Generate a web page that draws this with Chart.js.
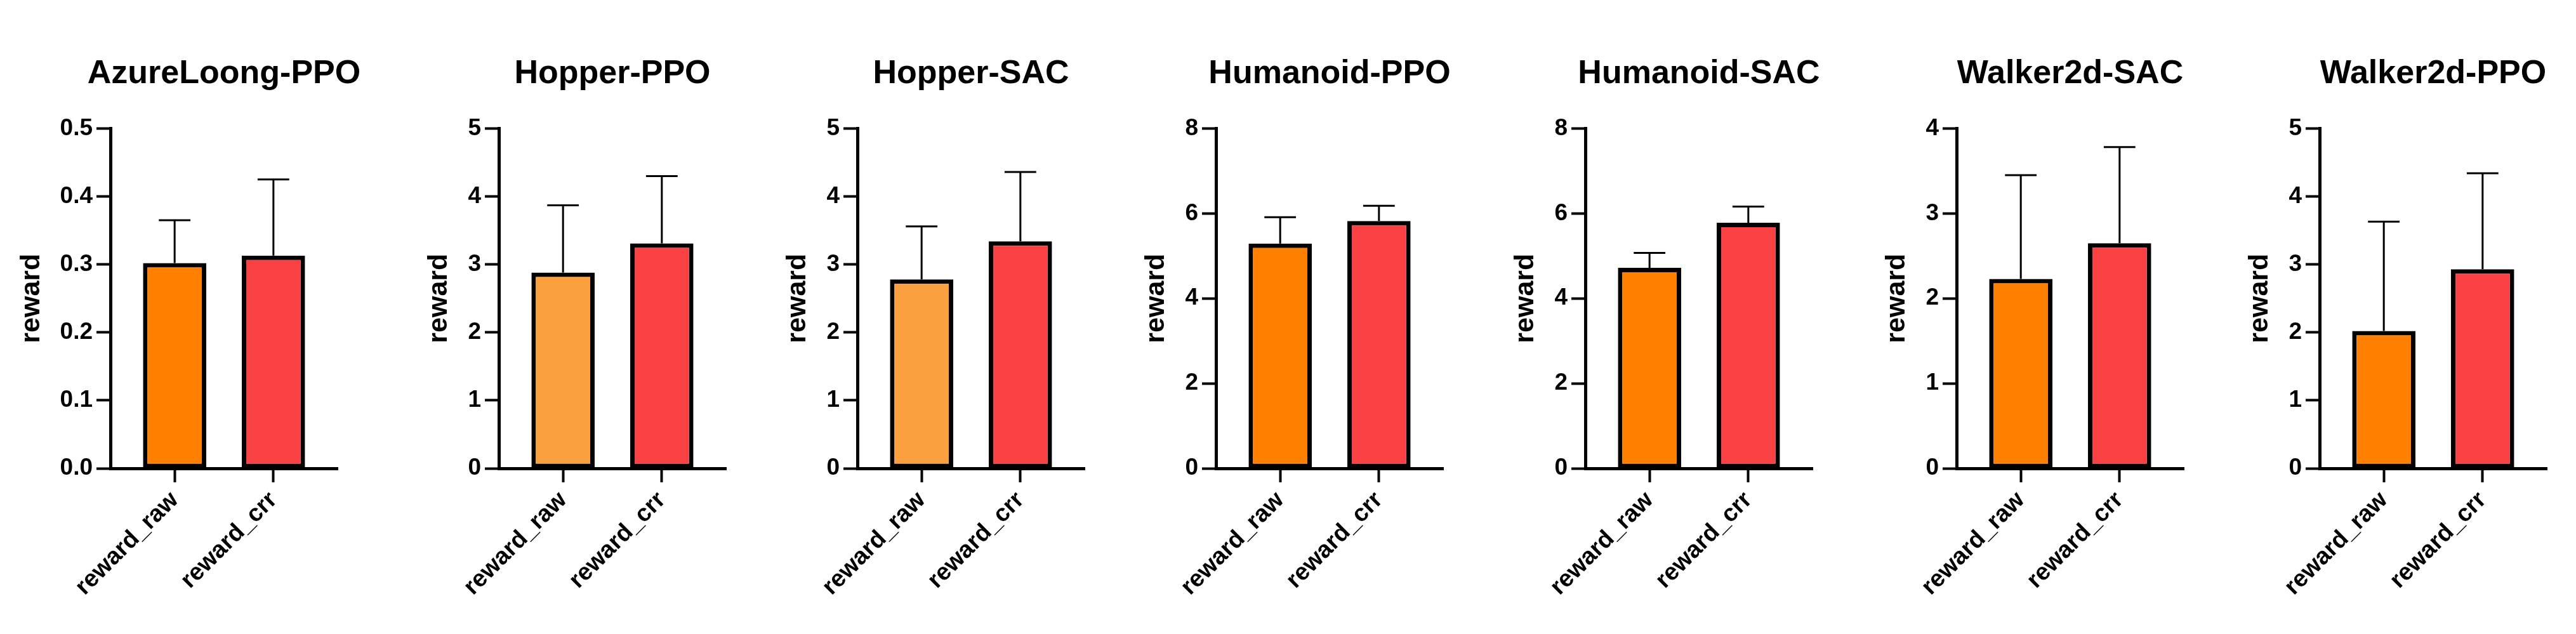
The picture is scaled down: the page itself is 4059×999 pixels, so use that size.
<!DOCTYPE html>
<html>
<head>
<meta charset="utf-8">
<script src="https://cdn.jsdelivr.net/npm/chart.js@4.4.1/dist/chart.umd.min.js"></script>
<style>
  body { margin: 0; background: #fff; }
  #wrap { position: relative; width: 4059px; height: 999px; background: #fff; }
  #wrap canvas { position: absolute; top: 0; }
</style>
</head>
<body>
<div id="wrap"></div>
<script>
// panels, left to right
const titles = ['AzureLoong-PPO', 'Hopper-PPO', 'Hopper-SAC', 'Humanoid-PPO', 'Humanoid-SAC', 'Walker2d-SAC', 'Walker2d-PPO'];
const categories = ['reward_raw', 'reward_crr'];
const yMax = [0.5, 5, 5, 8, 8, 4, 5];
const yStep = [0.1, 1, 1, 2, 2, 1, 1];
const rawMean = [0.302, 2.88, 2.78, 5.29, 4.72, 2.23, 2.02];
const rawUpper = [0.365, 3.87, 3.56, 5.91, 5.07, 3.45, 3.63];
const crrMean = [0.313, 3.31, 3.34, 5.82, 5.78, 2.65, 2.93];
const crrUpper = [0.425, 4.30, 4.36, 6.18, 6.16, 3.78, 4.34];

const rawColor = ['#FF8000', '#FBA03E', '#FBA03E', '#FF8000', '#FF8000', '#FF8000', '#FF8000'];
const crrColor = '#F94144';
// x pixel of each panel's y axis
const axisLeft = [174, 786, 1351, 1916, 2498, 3083, 3655];

// upward error bars, drawn from the bar top through the y scale
const errorBars = {
  id: 'errorBars',
  afterDatasetsDraw(chart, args, opts) {
    const ctx = chart.ctx;
    const y = chart.scales.y;
    chart.getDatasetMeta(0).data.forEach((bar, i) => {
      const top = y.getPixelForValue(opts.upper[i]);
      const half = bar.width / 4;
      ctx.save();
      ctx.strokeStyle = '#000';
      ctx.lineWidth = 3;
      ctx.beginPath();
      ctx.moveTo(bar.x, bar.y);
      ctx.lineTo(bar.x, top);
      ctx.moveTo(bar.x - half, top);
      ctx.lineTo(bar.x + half, top);
      ctx.stroke();
      ctx.restore();
    });
  }
};
Chart.register(errorBars);

const wrap = document.getElementById('wrap');
const arial = "'Liberation Sans', Arial, sans-serif";

function drawPanel(t, k) {
  const c = document.createElement('canvas');
  c.width = 658;
  c.height = 999;
  c.style.left = (axisLeft[k] - 150) + 'px';
  wrap.appendChild(c);

  const first = k === 0;
  const means = [rawMean[k], crrMean[k]];

  new Chart(c, {
    type: 'bar',
    data: {
      datasets: [{
        data: categories.map((_, i) => ({ x: i, y: means[i] })),
        backgroundColor: [rawColor[k], crrColor],
        borderColor: '#000',
        borderWidth: 7,
        borderSkipped: false,
        barPercentage: 0.64,
        categoryPercentage: 1
      }]
    },
    options: {
      responsive: false,
      devicePixelRatio: 1,
      animation: false,
      layout: { padding: 0 },
      plugins: {
        legend: { display: false },
        tooltip: { enabled: false },
        title: {
          display: true,
          text: t,
          color: '#000',
          font: { family: arial, size: 52, weight: 'bold', lineHeight: 1.2 },
          padding: { top: 85, bottom: 55 }
        },
        errorBars: { upper: [rawUpper[k], crrUpper[k]] }
      },
      scales: {
        x: {
          type: 'linear',
          min: -0.65,
          max: 1.65,
          offset: false,
          afterBuildTicks: s => { s.ticks = categories.map((_, i) => ({ value: i })); },
          afterFit: s => { s.height = 261; },
          border: { color: '#000', width: 5 },
          grid: { offset: false, drawOnChartArea: false, tickLength: 22, tickWidth: 4, tickColor: '#000' },
          ticks: {
            autoSkip: false,
            minRotation: 45,
            maxRotation: 45,
            padding: 6,
            color: '#000',
            font: { family: arial, size: 38, weight: 'bold' },
            callback: v => categories[v]
          }
        },
        y: {
          min: 0,
          max: yMax[k],
          afterFit: s => { s.width = 150; },
          border: { color: '#000', width: 5 },
          grid: { drawOnChartArea: false, tickLength: 22, tickWidth: 4, tickColor: '#000' },
          ticks: {
            stepSize: yStep[k],
            padding: 6,
            color: '#000',
            font: { family: arial, size: 37, weight: 'bold' },
            callback: v => first ? v.toFixed(1) : v
          },
          title: {
            display: true,
            text: 'reward',
            color: '#000',
            font: { family: arial, size: 43, weight: 'bold', lineHeight: 1.2 },
            padding: { top: first ? 0 : 30, bottom: 0 }
          }
        },
        // empty right-hand spacer so the full-width title centres over the plot
        spacer: {
          position: 'right',
          afterFit: s => { s.width = 150; },
          border: { display: false },
          grid: { display: false },
          ticks: { display: false }
        }
      }
    }
  });
}

// make sure the bold face is ready before the first canvas is painted
Promise.all([
  document.fonts.load("bold 52px 'Liberation Sans'"),
  document.fonts.load("bold 38px 'Liberation Sans'")
]).catch(() => {}).then(() => titles.forEach(drawPanel));
</script>
</body>
</html>
